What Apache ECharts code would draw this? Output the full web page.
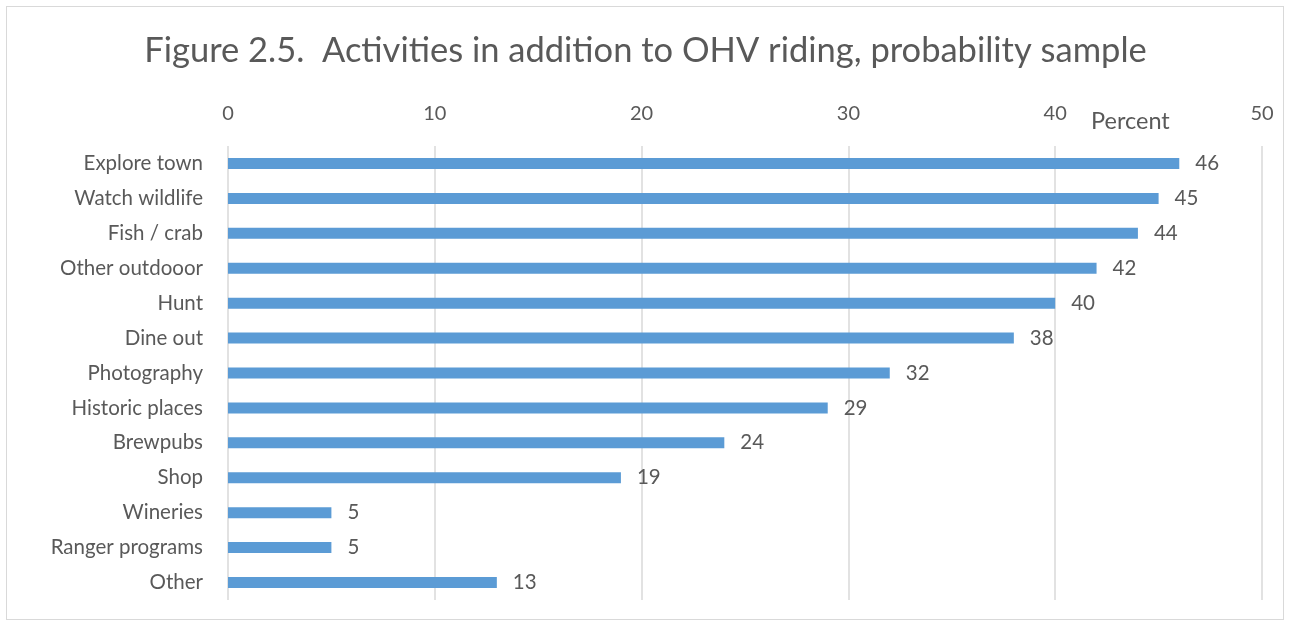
<!DOCTYPE html>
<html>
<head>
<meta charset="utf-8">
<script src="https://cdn.jsdelivr.net/npm/echarts@6/dist/echarts.min.js"></script>
<style>
  html, body { margin: 0; padding: 0; background: #fff; }
  #frame {
    position: absolute; left: 6px; top: 6px; width: 1278px; height: 614px;
    border: 1px solid #d9d9d9; box-sizing: border-box;
  }
  #chart { position: absolute; left: 0; top: 0; width: 1291px; height: 627px; }
</style>
</head>
<body>
<div id="frame"></div>
<div id="chart"></div>
<script>
  // categories top to bottom
  const activities = [
    'Explore town', 'Watch wildlife', 'Fish / crab', 'Other outdooor', 'Hunt',
    'Dine out', 'Photography', 'Historic places', 'Brewpubs', 'Shop',
    'Wineries', 'Ranger programs', 'Other'
  ]
  const percents = [46, 45, 44, 42, 40, 38, 32, 29, 24, 19, 5, 5, 13]
  const xTicks = [0, 10, 20, 30, 40, 50]

  const font = 'Lato, "Open Sans", sans-serif'
  const textColor = '#595959'

  const chart = echarts.init(document.getElementById('chart'))
  chart.setOption({
    animation: false,
    title: {
      text: 'Figure 2.5.  Activities in addition to OHV riding, probability sample',
      left: 'center',
      top: 28,
      textStyle: { fontFamily: font, fontSize: 34.5, fontWeight: 'normal', color: textColor }
    },
    graphic: [{
      type: 'text',
      left: 1091,
      top: 109,
      style: { text: 'Percent', font: '23.5px ' + font, fill: textColor }
    }],
    grid: { left: 228, right: 29, top: 146, bottom: 27 },
    xAxis: {
      type: 'value',
      position: 'top',
      min: xTicks[0],
      max: xTicks[xTicks.length - 1],
      interval: 10,
      axisLine: { show: false },
      axisTick: { show: false },
      axisLabel: { color: textColor, fontFamily: font, fontSize: 20, margin: 22 },
      splitLine: { lineStyle: { color: '#d9d9d9', width: 1.5 } }
    },
    yAxis: {
      type: 'category',
      inverse: true,
      data: activities,
      axisLine: { show: false },
      axisTick: { show: false },
      axisLabel: { color: textColor, fontFamily: font, fontSize: 20.5, margin: 25 }
    },
    series: [{
      type: 'bar',
      data: percents,
      barWidth: 11,
      itemStyle: { color: '#5b9bd5' },
      label: {
        show: true,
        position: 'right',
        distance: 16,
        color: textColor,
        fontFamily: font,
        fontSize: 20.5
      }
    }]
  })
</script>
</body>
</html>
